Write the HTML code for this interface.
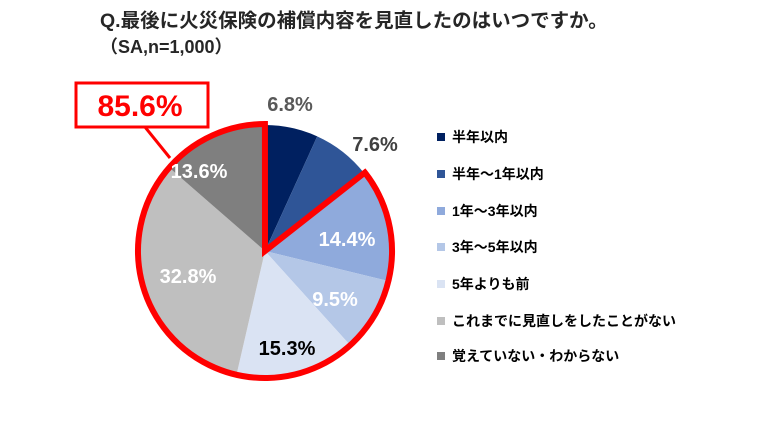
<!DOCTYPE html>
<html><head><meta charset="utf-8"><style>
body{margin:0;width:770px;height:433px;background:#fff;overflow:hidden;font-family:"Liberation Sans","Noto Sans CJK JP",sans-serif}
</style></head><body>
<svg id="s" width="770" height="433" xmlns="http://www.w3.org/2000/svg" font-family="Liberation Sans, Noto Sans CJK JP, sans-serif" font-weight="bold">
<text x="100" y="27" font-size="19.5" fill="#262626">Q.最後に火災保険の補償内容を見直したのはいつですか。</text>
<text x="100" y="53" font-size="18" fill="#262626">（SA,n=1,000）</text>
<g id="pie"></g>
<rect x="76" y="83" width="132" height="44" fill="#fff" stroke="#ff0000" stroke-width="3"/>
<line x1="145" y1="127" x2="170" y2="158" stroke="#ff0000" stroke-width="3"/>
<text x="140" y="116" font-size="30" fill="#ff0000" text-anchor="middle">85.6%</text>
<g font-size="20" text-anchor="middle">
<text x="290" y="111" fill="#595959">6.8%</text>
<text x="375" y="151" fill="#404040">7.6%</text>
<text x="347" y="246" fill="#fff">14.4%</text>
<text x="335" y="306" fill="#fff">9.5%</text>
<text x="287" y="355" fill="#000">15.3%</text>
<text x="188" y="283" fill="#fff">32.8%</text>
<text x="199" y="178" fill="#fff">13.6%</text>
</g>
<g font-size="14" fill="#000">
<rect x="437" y="133" width="8" height="8" fill="#002060"/><text x="452" y="142">半年以内</text>
<rect x="437" y="170" width="8" height="8" fill="#2F5597"/><text x="452" y="179">半年～1年以内</text>
<rect x="437" y="207" width="8" height="8" fill="#8FAADC"/><text x="452" y="216">1年～3年以内</text>
<rect x="437" y="243" width="8" height="8" fill="#B4C7E7"/><text x="452" y="252">3年～5年以内</text>
<rect x="437" y="280" width="8" height="8" fill="#DAE3F3"/><text x="452" y="289">5年よりも前</text>
<rect x="437" y="317" width="8" height="8" fill="#BFBFBF"/><text x="452" y="326">これまでに見直しをしたことがない</text>
<rect x="437" y="352" width="8" height="8" fill="#7F7F7F"/><text x="452" y="361">覚えていない・わからない</text>
</g>
</svg>
<script>
var cx=265,cy=251,r=126,vals=[6.8,7.6,14.4,9.5,15.3,32.8,13.6],
cols=["#002060","#2F5597","#8FAADC","#B4C7E7","#DAE3F3","#BFBFBF","#7F7F7F"];
function pt(c,R){var a=c*3.6*Math.PI/180;return [cx+R*Math.sin(a),cy-R*Math.cos(a)];}
var g=document.getElementById("pie"),h="",c=0;
vals.forEach(function(v,i){var p1=pt(c,r),p2=pt(c+v,r),lg=v>50?1:0;
h+='<path d="M'+cx+','+cy+'L'+p1[0]+','+p1[1]+'A'+r+','+r+' 0 '+lg+' 1 '+p2[0]+','+p2[1]+'Z" fill="'+cols[i]+'"/>';c+=v;});
var R=r+1,s=pt(14.4,R),e=pt(99.99,R);
h+='<path d="M'+cx+','+cy+'L'+s[0]+','+s[1]+'A'+R+','+R+' 0 1 1 '+e[0]+','+e[1]+'Z" fill="none" stroke="#ff0000" stroke-width="6" stroke-linejoin="miter"/>';
g.innerHTML=h;
</script>
</body></html>
